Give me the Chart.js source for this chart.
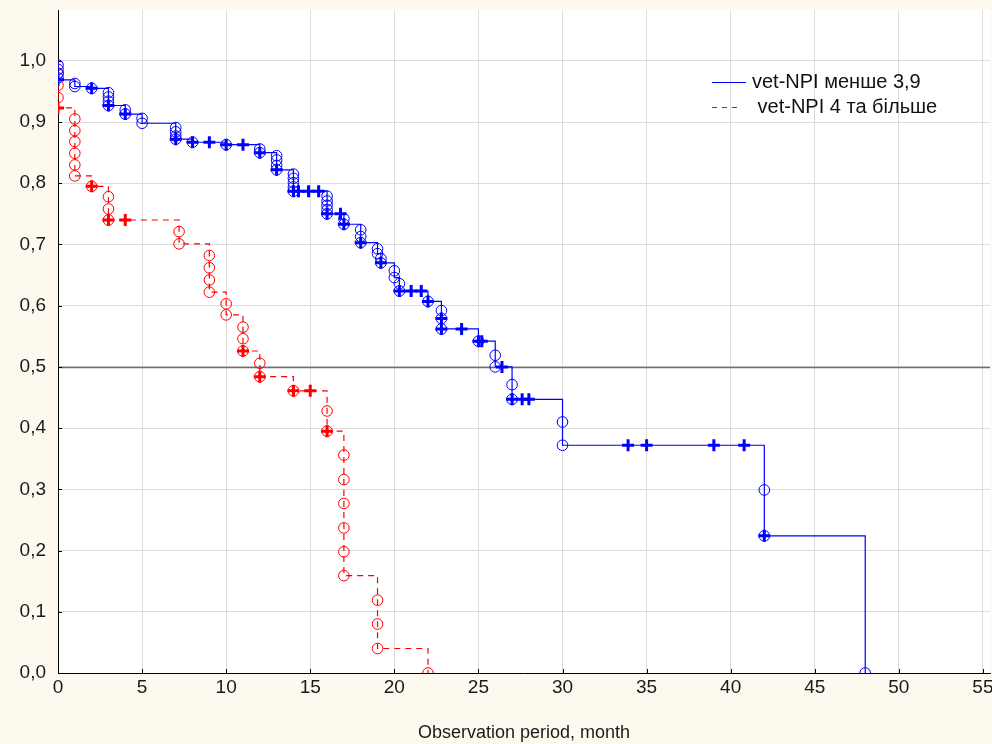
<!DOCTYPE html>
<html>
<head>
<meta charset="utf-8">
<script src="https://cdn.jsdelivr.net/npm/chart.js@4.4.1/dist/chart.umd.min.js"></script>
<style>
  body { margin: 0; background: #fdf9ef; }
  canvas { display: block; }
</style>
</head>
<body>
<canvas id="km" width="992" height="744"></canvas>
<script>
// group 1: vet-NPI менше 3,9 (blue)
const blueEventT = [0, 0, 0, 0, 1, 1, 2, 3, 3, 3, 3, 4, 4, 5, 5, 7, 7, 7, 7, 8, 10, 12, 12,
  13, 13, 13, 13, 14, 14, 14, 14, 14, 16, 16, 16, 16, 16, 17, 17, 18, 18, 18,
  19, 19, 19.2, 19.2, 20, 20, 20.3, 20.3, 22, 22.8, 22.8, 22.8, 25, 26, 26, 27, 27,
  30, 30, 42, 42, 48];
const blueEventS = [0.993, 0.986, 0.979, 0.972, 0.963, 0.958, 0.955, 0.948, 0.941, 0.934, 0.927, 0.920, 0.913, 0.906, 0.898,
  0.891, 0.884, 0.877, 0.872, 0.867, 0.863, 0.856, 0.850,
  0.845, 0.838, 0.829, 0.822, 0.815, 0.808, 0.801, 0.794, 0.787, 0.779, 0.771, 0.764, 0.757, 0.750, 0.742, 0.733, 0.724, 0.713, 0.703,
  0.693, 0.685, 0.677, 0.670, 0.657, 0.646, 0.636, 0.624, 0.607, 0.592, 0.579, 0.562, 0.542, 0.519, 0.500, 0.471, 0.447,
  0.410, 0.372, 0.299, 0.224, 0.0];
const blueCensT = [0, 2, 3, 4, 7, 8, 9, 10, 11, 12, 13, 14, 14.3, 14.9, 15.5, 16, 16.8, 17, 18, 19.2, 20.3, 21.0, 21.6, 22,
  22.8, 22.8, 24, 25, 25.2, 26.4, 27, 27.6, 28, 33.9, 35, 39, 40.8, 42];
const blueCensS = [0.969, 0.955, 0.927, 0.913, 0.872, 0.867, 0.867, 0.863, 0.863, 0.850, 0.822, 0.787, 0.787, 0.787, 0.787, 0.750, 0.750, 0.733, 0.703, 0.670, 0.624, 0.624, 0.624, 0.607,
  0.579, 0.562, 0.562, 0.542, 0.542, 0.500, 0.447, 0.447, 0.447, 0.372, 0.372, 0.372, 0.372, 0.224];

// group 2: vet-NPI 4 та більше (red)
const redEventT = [0, 0, 0, 1, 1, 1, 1, 1, 1, 2, 3, 3, 3, 7.2, 7.2, 9, 9, 9, 9, 10, 10, 11, 11, 11, 12, 12,
  14, 16, 16, 17, 17, 17, 17, 17, 17, 19, 19, 19, 22];
const redEventS = [0.980, 0.960, 0.940, 0.905, 0.886, 0.868, 0.849, 0.830, 0.812, 0.795, 0.778, 0.758, 0.740, 0.721, 0.701,
  0.682, 0.662, 0.642, 0.622, 0.603, 0.585, 0.565, 0.546, 0.526, 0.506, 0.484,
  0.461, 0.428, 0.395, 0.356, 0.316, 0.277, 0.237, 0.198, 0.159, 0.119, 0.080, 0.040, 0.0];
const redCensT = [0, 2, 3, 4, 11, 12, 14, 15, 16];
const redCensS = [0.923, 0.795, 0.740, 0.740, 0.526, 0.484, 0.461, 0.461, 0.395];

const xTicks = [0, 5, 10, 15, 20, 25, 30, 35, 40, 45, 50, 55];
const yTicks = [0, 0.1, 0.2, 0.3, 0.4, 0.5, 0.6, 0.7, 0.8, 0.9, 1.0];
const legendLabels = ['vet-NPI менше 3,9', ' vet-NPI 4 та більше'];

const FONT = '"Liberation Sans", Arial, sans-serif';

function pts(ts, ss) {
  return ts.map((t, i) => ({ x: t, y: ss[i] }));
}
function stepLine(evT, evS, cT, cS) {
  const all = pts(evT, evS).concat(pts(cT, cS));
  all.sort((a, b) => a.x - b.x || b.y - a.y);
  return [{ x: 0, y: 1 }].concat(all);
}

const blue = 'rgb(0,0,255)';
const red = 'rgb(255,0,0)';

const extras = {
  id: 'extras',
  beforeDraw(chart) {
    const { ctx, chartArea: a } = chart;
    ctx.save();
    ctx.fillStyle = '#ffffff';
    ctx.fillRect(a.left, a.top, a.right - a.left, a.bottom - a.top);
    ctx.restore();
  },
  beforeDatasetsDraw(chart) {
    const { ctx, chartArea: a, scales } = chart;
    ctx.save();
    // median line
    const ym = Math.round(scales.y.getPixelForValue(0.5)) + 0.5;
    ctx.strokeStyle = '#6e6e6e';
    ctx.lineWidth = 1.5;
    ctx.beginPath();
    ctx.moveTo(a.left, ym);
    ctx.lineTo(a.right, ym);
    ctx.stroke();
    // inward ticks
    ctx.strokeStyle = '#000';
    ctx.lineWidth = 1;
    ctx.beginPath();
    xTicks.forEach(v => {
      const x = Math.round(scales.x.getPixelForValue(v)) + 0.5;
      ctx.moveTo(x, a.bottom);
      ctx.lineTo(x, a.bottom - 4);
    });
    yTicks.forEach(v => {
      const y = Math.round(scales.y.getPixelForValue(v)) + 0.5;
      ctx.moveTo(a.left, y);
      ctx.lineTo(a.left + 4, y);
    });
    ctx.stroke();
    ctx.restore();
  },
  afterDatasetsDraw(chart) {
    const { ctx } = chart;
    ctx.save();
    ctx.font = '20px ' + FONT;
    ctx.textBaseline = 'middle';
    ctx.fillStyle = '#111';
    // blue entry
    ctx.strokeStyle = blue;
    ctx.lineWidth = 1;
    ctx.beginPath();
    ctx.moveTo(712, 82.5);
    ctx.lineTo(746, 82.5);
    ctx.stroke();
    ctx.fillText(legendLabels[0], 752, 82);
    // red entry
    ctx.strokeStyle = red;
    ctx.setLineDash([5, 5]);
    ctx.beginPath();
    ctx.moveTo(712, 107.5);
    ctx.lineTo(742, 107.5);
    ctx.stroke();
    ctx.setLineDash([]);
    ctx.fillText(legendLabels[1], 752, 107);
    ctx.restore();
  }
};

new Chart(document.getElementById('km'), {
  type: 'scatter',
  data: {
    datasets: [
      {
        label: 'blue censored',
        data: pts(blueCensT, blueCensS),
        pointStyle: 'cross',
        pointRadius: 6,
        pointBorderWidth: 3,
        borderColor: blue,
        backgroundColor: blue,
        order: 0
      },
      {
        label: 'red censored',
        data: pts(redCensT, redCensS),
        pointStyle: 'cross',
        pointRadius: 6,
        pointBorderWidth: 3,
        borderColor: red,
        backgroundColor: red,
        order: 0
      },
      {
        label: 'blue events',
        data: pts(blueEventT, blueEventS),
        pointStyle: 'circle',
        pointRadius: 5.3,
        pointBorderWidth: 1,
        borderColor: blue,
        backgroundColor: 'rgba(0,0,0,0)',
        order: 1
      },
      {
        label: 'red events',
        data: pts(redEventT, redEventS),
        pointStyle: 'circle',
        pointRadius: 5.3,
        pointBorderWidth: 1,
        borderColor: red,
        backgroundColor: 'rgba(0,0,0,0)',
        order: 1
      },
      {
        type: 'line',
        label: legendLabels[0],
        data: stepLine(blueEventT, blueEventS, blueCensT, blueCensS),
        stepped: 'before',
        borderColor: blue,
        borderWidth: 1.2,
        pointRadius: 0,
        fill: false,
        order: 5
      },
      {
        type: 'line',
        label: legendLabels[1],
        data: stepLine(redEventT, redEventS, redCensT, redCensS),
        stepped: 'before',
        borderColor: red,
        borderWidth: 1.2,
        borderDash: [6, 5],
        pointRadius: 0,
        fill: false,
        order: 5
      }
    ]
  },
  options: {
    responsive: false,
    devicePixelRatio: 1,
    animation: false,
    layout: { autoPadding: false, padding: { top: 10, right: 2, left: 0, bottom: 0 } },
    plugins: {
      legend: { display: false },
      tooltip: { enabled: false }
    },
    scales: {
      x: {
        type: 'linear',
        min: 0,
        max: 55.42,
        afterBuildTicks: s => { s.ticks = xTicks.map(v => ({ value: v })); },
        afterFit: s => { s.height = 71; s.paddingLeft = 0; s.paddingRight = 0; },
        grid: { color: '#dcdcdc', drawTicks: false },
        border: { color: '#000', width: 1 },
        ticks: { font: { family: FONT, size: 19 }, color: '#1a1a1a', padding: 3, maxRotation: 0 },
        title: {
          display: true,
          text: 'Observation period, month',
          font: { family: FONT, size: 18 },
          color: '#1a1a1a',
          padding: { top: 0, bottom: 0 }
        }
      },
      y: {
        min: 0,
        max: 1.083,
        afterBuildTicks: s => { s.ticks = yTicks.map(v => ({ value: v })); },
        afterFit: s => { s.width = 58; s.paddingTop = 0; s.paddingBottom = 0; },
        grid: { color: '#dcdcdc', drawTicks: false },
        border: { color: '#000', width: 1 },
        ticks: {
          font: { family: FONT, size: 19 },
          color: '#1a1a1a',
          padding: 12,
          callback: v => v.toFixed(1).replace('.', ',')
        }
      }
    }
  },
  plugins: [extras]
});
</script>
</body>
</html>
